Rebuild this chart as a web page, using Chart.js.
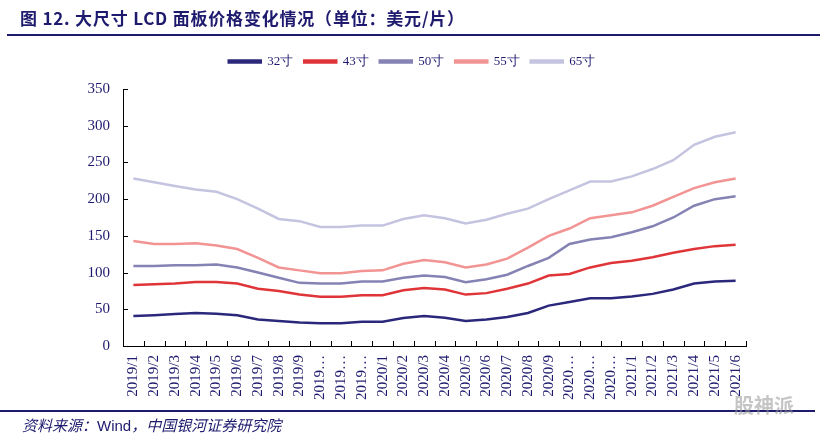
<!DOCTYPE html>
<html>
<head>
<meta charset="utf-8">
<script src="https://cdn.jsdelivr.net/npm/chart.js@4/dist/chart.umd.min.js"></script>
<style>
  html, body { margin: 0; padding: 0; background: #fff; }
  #wrap { position: relative; width: 820px; height: 438px; overflow: hidden; }
  #salesChart { position: absolute; left: 0; top: 0; }
  .title {
    position: absolute; left: 20px; top: 5px;
    font: 700 17px "Noto Sans CJK SC", sans-serif; color: #1e1b6e;
    letter-spacing: 0.8px; white-space: nowrap;
  }
  .rule { position: absolute; left: 7px; right: 0; height: 2px; background: #1e1b6e; }
  .source {
    position: absolute; left: 22px; top: 414px;
    font: italic 15px "Noto Sans CJK SC", sans-serif; color: #1e1b6e; white-space: nowrap;
  }
  .source span { font-family: "Liberation Sans", Arial, sans-serif; font-style: normal; }
  .mark {
    position: absolute; left: 734px; top: 390px;
    font: 700 20px "Noto Sans CJK SC", sans-serif; color: rgba(150,150,150,0.55);
  }
</style>
</head>
<body>
<div id="wrap">
  <canvas id="salesChart" width="820" height="438"></canvas>
  <div class="title">图 12. 大尺寸 LCD 面板价格变化情况（单位：美元/片）</div>
  <div class="rule" style="top:34px"></div>
  <div class="rule" style="top:410px; left:0; right:5px"></div>
  <div class="source">资料来源：<span>Wind</span>，中国银河证券研究院</div>
  <div class="mark">股神派</div>
</div>
<script>
// Months 2019/1 .. 2021/6 (long labels truncated as in the source)
const months = [
  "2019/1", "2019/2", "2019/3", "2019/4", "2019/5", "2019/6", "2019/7", "2019/8", "2019/9",
  "2019…", "2019…", "2019…",
  "2020/1", "2020/2", "2020/3", "2020/4", "2020/5", "2020/6", "2020/7", "2020/8", "2020/9",
  "2020…", "2020…", "2020…",
  "2021/1", "2021/2", "2021/3", "2021/4", "2021/5", "2021/6"
];

// Panel prices, USD per piece
const p32 = [41, 42, 43.5, 45, 44, 42, 36, 34, 32, 31, 31, 33, 33, 38, 41, 38.5, 34, 36, 39.5, 45, 55, 60, 65, 65, 67.5, 71, 77, 85, 88, 89];
const p43 = [83, 84, 85, 87, 87, 85, 78, 75, 70, 67, 67, 69, 69, 76, 79, 77, 70, 72, 78, 85, 96, 98, 107, 113, 116, 121, 127, 132, 136, 138];
const p50 = [109, 109, 110, 110, 111, 107, 100, 93, 86, 85, 85, 88, 88, 93, 96, 94, 87, 91, 97, 109, 120, 139, 145, 148, 155, 163, 175, 191, 200, 204];
const p55 = [143, 139, 139, 140, 137, 132, 120, 107, 103, 99, 99, 102, 103, 112, 117, 114, 107, 111, 119, 134, 150, 160, 174, 178, 182, 191, 203, 215, 223, 228];
const p65 = [228, 223, 218, 213, 210, 200, 187, 173, 170, 162, 162, 164, 164, 173, 178, 174, 167, 172, 180, 187, 200, 212, 224, 224, 231, 241, 253, 274, 285, 291];

const navy = "#1e1b6e";
const serif = "'Times New Roman', 'Liberation Serif', serif";

function series(label, data, color) {
  return {
    label: label,
    data: data,
    borderColor: color,
    backgroundColor: color,
    borderWidth: 2.5,
    pointRadius: 0,
    tension: 0
  };
}

// leave a gap under the legend and centre it on the page, not the plot
const legendGap = {
  id: "legendGap",
  afterInit(chart) {
    const legend = chart.legend;
    if (!legend) return;
    const fit = legend.fit;
    legend.fit = function () {
      fit.call(this);
      this.height += 11;
    };
    const draw = legend.draw;
    legend.draw = function () {
      chart.ctx.save();
      chart.ctx.translate(39, 0);
      draw.apply(this, arguments);
      chart.ctx.restore();
    };
  }
};

// short tick marks pointing into the plot area
const innerTicks = {
  id: "innerTicks",
  afterDraw(chart) {
    const { ctx, scales: { x, y } } = chart;
    ctx.save();
    ctx.strokeStyle = "#000";
    ctx.lineWidth = 1;
    ctx.beginPath();
    y.ticks.forEach((t, i) => {
      const py = Math.round(y.getPixelForTick(i)) + 0.5;
      ctx.moveTo(x.left, py);
      ctx.lineTo(x.left + 5, py);
    });
    const n = months.length;
    for (let i = 1; i <= n; i++) {
      const px = Math.round(x.left + (x.width * i) / n) + 0.5;
      ctx.moveTo(px, y.bottom);
      ctx.lineTo(px, y.bottom - 5);
    }
    ctx.stroke();
    ctx.restore();
  }
};

const ctx = document.getElementById("salesChart");

new Chart(ctx, {
  type: "line",
  data: {
    labels: months,
    datasets: [
      series("32寸", p32, "#2b287c"),
      series("43寸", p43, "#e03538"),
      series("50寸", p50, "#8582b4"),
      series("55寸", p55, "#f29493"),
      series("65寸", p65, "#c5c4e0")
    ]
  },
  options: {
    responsive: false,
    animation: false,
    layout: { padding: { top: 44, right: 74, left: 0, bottom: 0 } },
    plugins: {
      tooltip: { enabled: false },
      legend: {
        display: true,
        labels: {
          boxWidth: 32,
          boxHeight: 2,
          padding: 11,
          color: navy,
          font: { family: serif, size: 13 }
        }
      }
    },
    scales: {
      x: {
        offset: true,
        grid: { display: false, drawTicks: false },
        border: { display: true, color: "#000", width: 1 },
        ticks: {
          autoSkip: false,
          maxRotation: 90,
          minRotation: 90,
          padding: 9,
          color: navy,
          font: { family: serif, size: 15 }
        },
        afterFit(scale) { scale.height = 92; }
      },
      y: {
        min: 0,
        max: 350,
        grid: { display: false, drawTicks: false },
        border: { display: true, color: "#000", width: 1 },
        ticks: {
          stepSize: 50,
          padding: 13,
          color: navy,
          font: { family: serif, size: 15 }
        },
        afterFit(scale) { scale.width = 123; }
      }
    }
  },
  plugins: [legendGap, innerTicks]
});
</script>
</body>
</html>
